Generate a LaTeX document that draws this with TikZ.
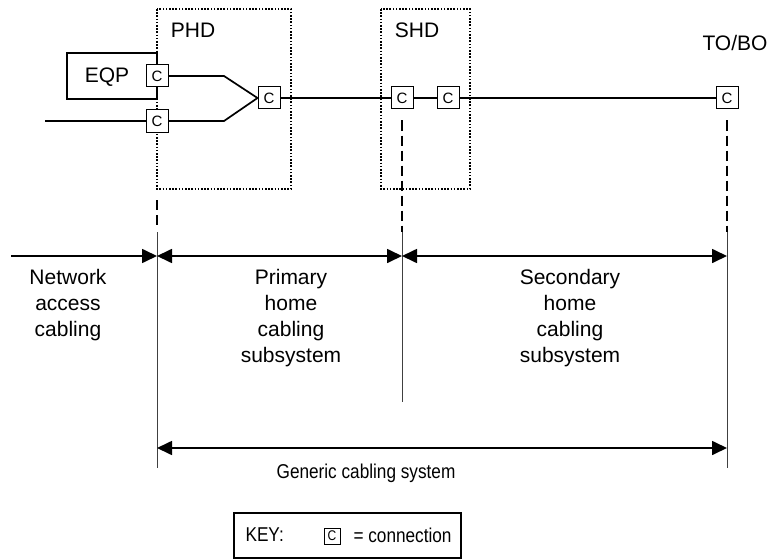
\documentclass[tikz,border=0pt]{standalone}
\usepackage{fontspec}
\setmainfont{Liberation Sans}
\newfontfamily\narrowsans[FakeStretch=0.86]{Liberation Sans}
\usetikzlibrary{arrows.meta}

\tikzset{
  conn/.style={draw, line width=1pt, fill=white, minimum size=22pt, inner sep=0pt,
    font=\fontsize{15}{15}\selectfont},
  keyconn/.style={draw, line width=1pt, fill=white, minimum size=16pt, inner sep=0pt,
    font=\narrowsans\fontsize{14}{14}\selectfont},
  wire/.style={line width=1.7pt},
  dotbox/.style={draw, line width=1.6pt, dash pattern=on 1.6pt off 1.6pt},
  marker/.style={line width=1.7pt, dash pattern=on 10pt off 5pt},
  border/.style={line width=1pt, draw=black!75},
  span/.style={line width=1.7pt},
  dbl/.style={span, {Triangle[length=15pt,width=14pt]}-{Triangle[length=15pt,width=14pt]}},
  lbl/.style={font=\fontsize{21}{26}\selectfont, align=center},
  keytxt/.style={font=\narrowsans\fontsize{20}{22}\selectfont}
}

\begin{document}
\begin{tikzpicture}[x=1pt,y=-1pt]
\useasboundingbox (0,0) rectangle (773,559);

% distributors
\draw[dotbox] (157,9) rectangle (291,189);
\draw[dotbox] (381,9) rectangle (470,189);
\node[lbl] (phd) at (193,30) {PHD};
\node[lbl] (shd) at (417,30) {SHD};
\node[lbl] (tobo) at (735,43) {TO/BO};

% equipment
\draw[line width=1.7pt] (157,53) -- (67,53) -- (67,99) -- (157,99) -- cycle;
\node[lbl] (eqp) at (107,77) {EQP};

% connections
\node[conn] (c1) at (157,76) {C};
\node[conn] (c2) at (157,121) {C};
\node[conn] (c3) at (269,98) {C};
\node[conn] (c4) at (402,98) {C};
\node[conn] (c5) at (448,98) {C};
\node[conn] (c6) at (727,98) {C};

\coordinate (in) at (45,121);
\coordinate (j1) at (224,76);
\coordinate (j2) at (224,121);

\draw[wire] (in) -- (c2.west);
\draw[wire] (c1.east) -- (j1) -- (c3.west);
\draw[wire] (c2.east) -- (j2) -- (c3.west);
\draw[wire] (c3.east) -- (c4.west);
\draw[wire] (c4.east) -- (c5.west);
\draw[wire] (c5.east) -- (c6.west);

% interface markers
\coordinate (m1) at (157,200);
\coordinate (b1) at (157,228);
\coordinate (b2) at (402,232);
\coordinate (b3) at (727,232);
\draw[marker] (m1) -- (b1);
\draw[marker] (c4.south) ++(0,11) -- (b2);
\draw[marker] (c6.south) ++(0,11) -- (b3);

\coordinate (t1) at (157,232);
\coordinate (e1) at (157,468);
\coordinate (e2) at (402,402);
\coordinate (e3) at (727,468);
\draw[border] (t1) -- (e1);
\draw[border] (b2) -- (e2);
\draw[border] (b3) -- (e3);

% spans
\coordinate (a0) at (11,256);
\coordinate (a1) at (157,256);
\coordinate (a2) at (402,256);
\coordinate (a3) at (727,256);
\draw[span, -{Triangle[length=15pt,width=14pt]}] (a0) -- (a1);
\draw[dbl] (a1) -- (a2);
\draw[dbl] (a2) -- (a3);

\coordinate (g1) at (157,448);
\coordinate (g2) at (727,448);
\draw[dbl] (g1) -- (g2);

\node[lbl, anchor=north] (nac) at (68,266) {Network\\access\\cabling};
\node[lbl, anchor=north] (phc) at (291,266) {Primary\\home\\cabling\\subsystem};
\node[lbl, anchor=north] (shc) at (570,266) {Secondary\\home\\cabling\\subsystem};
\node[keytxt] (gcs) at (366,473) {Generic cabling system};

% key
\draw[line width=1.2pt] (234,513) rectangle (461,558);
\node[keytxt, anchor=west] (key) at (242,535) {KEY:};
\node[keyconn] (kc) at (332,536) {C};
\node[keytxt, anchor=west] (keyeq) at (350,535) {= connection};
\end{tikzpicture}
\end{document}
